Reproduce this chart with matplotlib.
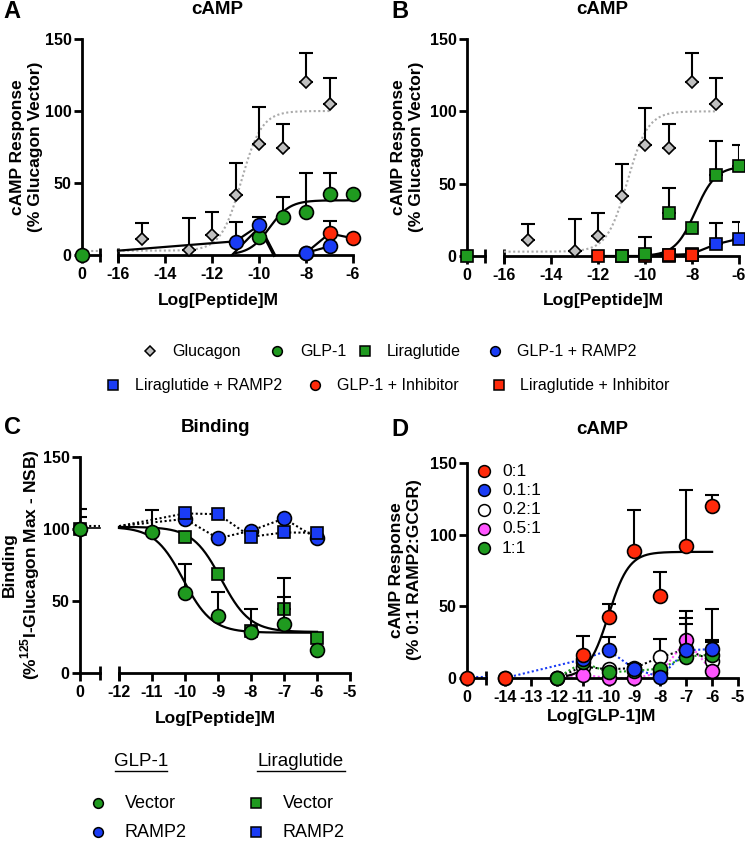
import numpy as np
import matplotlib
matplotlib.use('Agg')
import matplotlib.pyplot as plt
from matplotlib.lines import Line2D

plt.rcParams['font.family'] = 'Liberation Sans'
plt.rcParams['font.weight'] = 'bold'
plt.rcParams['mathtext.fontset'] = 'custom'
plt.rcParams['mathtext.bf'] = 'Liberation Sans:bold'
plt.rcParams['mathtext.rm'] = 'Liberation Sans:bold'

W, H = 745, 846

GREEN = '#1f9a1f'
BLUE = '#1a3cf5'
RED = '#ff2a0a'
GREY = '#c0c0c0'
MAGENTA = '#ff55ff'
WHITE = '#ffffff'

# ---- panels A/B: cAMP ----
glu_x = [-15, -13, -12, -11, -10, -9, -8, -7]
glu_y = [10.9, 3.5, 13.7, 41.7, 77, 74.4, 120, 105]
glu_err = [11.1, 22, 16.3, 22.1, 25.5, 16.6, 20, 18]
glu_fit = (3, 100, -10.75, 1.0)      # bottom, top, logEC50, hill

glp_x = [-10, -9, -8, -7, -6]
glp_y = [12.3, 26.7, 29.7, 42.2, 42.2]
glp_err = [0, 13.3, 27, 14.6, 0]
glp_fit = (0, 38, -9.55, 1.0)

glp_r2_x = [-11, -10, -8, -7]
glp_r2_y = [9, 20.5, 1.5, 6]
glp_r2_err = [14, 6, 0, 0]
glp_r2_line_x = [-16, -11, -10, -9.35]
glp_r2_line_y = [3, 9.5, 20.5, 0]
glp_r2_line2_x = [-11.15, -10]
glp_r2_line2_y = [0, 19]

glp_inh_x = [-8, -7, -6]
glp_inh_y = [1.5, 15, 11.6]
glp_inh_err = [0, 8.6, 0]

lira_x = [-11, -10, -9, -8, -7, -6]
lira_y = [0, 1.6, 30, 19.4, 56, 62]
lira_err = [0, 11.4, 16.7, 0, 23.5, 15]
lira_fit = (0, 62, -7.85, 1.0)

lira_r2_x = [-9, -8, -7, -6]
lira_r2_y = [0, 1.5, 8, 12]
lira_r2_err = [0, 0, 15, 11.5]

lira_inh_x = [-12, -11, -10, -9, -8]
lira_inh_y = [0, 0, 0, 1, 1]

# ---- panel C: binding ----
c_glp_x = [-11, -10, -9, -8, -7, -6]
c_glp_y = [98, 55.4, 39.7, 28.2, 34, 16.2]
c_glp_err = [15, 20.6, 16.8, 0, 18.6, 0]
c_glp_fit = (28, 101.5, -10.05, -1.0)

c_lira_x = [-10, -9, -8, -7, -6]
c_lira_y = [94.6, 68.5, 29, 44.5, 24]
c_lira_err = [0, 0, 15.5, 21.5, 0]
c_lira_fit = (28.5, 101.5, -8.9, -1.0)

c_glp_r2_x = [-12, -10, -9, -8, -7, -6]
c_glp_r2_y = [102, 107, 93.5, 98.8, 107.3, 93.5]
c_lira_r2_x = [-12, -10, -9, -8, -7, -6]
c_lira_r2_y = [102, 110.8, 110.3, 94.6, 97.6, 97.4]
c_ctrl_y = 100
c_ctrl_err = [14, 8]

# ---- panel D: cAMP, RAMP2:GCGR ratios ----
d_labels = ['0:1', '0.1:1', '0.2:1', '0.5:1', '1:1']
d_colors = [RED, BLUE, WHITE, MAGENTA, GREEN]
d_x = [
    [-14, -11, -10, -9, -8, -7, -6],
    [-14, -11, -10, -9, -8, -7, -6],
    [-12, -11, -10, -9, -8, -7, -6],
    [-12, -11, -10, -9, -8, -7, -6],
    [-12, -11, -10, -9, -8, -7, -6],
]
d_y = [
    [0, 16.3, 42.6, 88.4, 57, 92.3, 120],
    [0, 13, 19.3, 6.3, 0.7, 19.3, 20.2],
    [0, 8, 6, 7, 14.6, 20, 12],
    [0, 2.3, 0, 0, 3.5, 26.3, 4.7],
    [0, 10.9, 4, 5, 6.5, 15, 16.3],
]
d_err = [
    [0, 13.2, 9.3, 28.6, 17, 38.7, 8],
    [0, 0, 9.3, 3.7, 0, 27.7, 27.8],
    [0, 0, 0, 0, 12.8, 22, 14.7],
    [0, 0, 0, 0, 0, 11.7, 0],
    [0, 0, 0, 0, 0, 0, 8.7],
]
d_fit = (0, 88, -10.0, 1.1)


def logistic(x, bottom, top, logec, hill):
    return bottom + (top - bottom) / (1 + 10 ** ((logec - x) * hill))


def add_ax(l, r, t, b):
    return fig.add_axes([l / W, 1 - b / H, (r - l) / W, (b - t) / H])


def setup(ax_s, ax_m, xlim, xticks):
    for ax in (ax_s, ax_m):
        ax.set_ylim(0, 150)
        ax.patch.set_alpha(0)
        ax.spines['top'].set_visible(False)
        ax.spines['right'].set_visible(False)
        ax.spines['bottom'].set_linewidth(2)
        ax.tick_params(width=2, length=6, labelsize=11.5, direction='out')
        ax.tick_params(axis='x', pad=2.5)
        ax.tick_params(which='minor', direction='inout', length=10, width=2)
        ax.xaxis.remove_overlapping_locs = False
    ax_m.spines['left'].set_visible(False)
    ax_m.tick_params(axis='y', left=False, labelleft=False)
    ax_s.spines['left'].set_linewidth(2)
    ax_s.tick_params(axis='y', pad=1.5)
    ax_s.set_xlim(0, 1)
    ax_s.set_xticks([0])
    ax_s.set_xticks([1], minor=True)
    ax_s.set_yticks([0, 50, 100, 150])
    ax_m.set_xlim(*xlim)
    ax_m.set_xticks(xticks)
    ax_m.set_xticks([xlim[0]], minor=True)
    ax_m.set_xticklabels([str(v) for v in xticks])


def points(ax, x, y, err, marker, color, ms, z=5):
    x = np.asarray(x, float)
    y = np.asarray(y, float)
    err = np.asarray(err, float)
    m = err > 0
    if m.any():
        ax.errorbar(x[m], y[m], yerr=[np.zeros(m.sum()), err[m]], fmt='none',
                    ecolor='k', elinewidth=1.5, capsize=5, capthick=1.5, zorder=z - 1)
    ax.plot(x, y, ls='none', marker=marker, ms=ms, mfc=color, mec='k', mew=1.2,
            zorder=z, clip_on=False)


def fit_line(ax, params, x0, x1, **kw):
    xs = np.linspace(x0, x1, 200)
    ax.plot(xs, logistic(xs, *params), clip_on=False, **kw)


DOT = (0, (1, 1.2))
fig = plt.figure(figsize=(W / 100, H / 100), dpi=100)

# ---------------- A ----------------
aS = add_ax(82, 100, 39, 255)
aM = add_ax(118, 353, 39, 255)
setup(aS, aM, (-16, -6), [-16, -14, -12, -10, -8, -6])
aS.plot([0, 1], [3, 3], color='#aaaaaa', ls=DOT, lw=1.5, clip_on=False)
points(aS, [0], [0], [0], 'o', GREEN, 10)
fit_line(aM, glu_fit, -16, -7, color='#aaaaaa', ls=DOT, lw=1.5, zorder=2)
fit_line(aM, glp_fit, -11, -6, color='k', lw=1.6, zorder=2)
aM.plot(glp_r2_line_x, glp_r2_line_y, color='k', lw=1.6, zorder=2, clip_on=False)
aM.plot(glp_r2_line_x[2:], glp_r2_line_y[2:], color='k', lw=2.6, zorder=2, clip_on=False)
aM.plot(glp_r2_line2_x, glp_r2_line2_y, color='k', lw=1.6, zorder=2, clip_on=False)
aM.plot(glp_inh_x, glp_inh_y, color='k', lw=1.6, zorder=2)
aM.plot(glp_r2_x[2:], glp_r2_y[2:], color='k', lw=1.6, zorder=2)
points(aM, glu_x, glu_y, glu_err, 'D', GREY, 6.6)
points(aM, glp_x, glp_y, glp_err, 'o', GREEN, 10)
points(aM, glp_r2_x, glp_r2_y, glp_r2_err, 'o', BLUE, 10, z=6)
points(aM, glp_inh_x, glp_inh_y, glp_inh_err, 'o', RED, 10)

# ---------------- B ----------------
bS = add_ax(467, 485, 39, 256)
bM = add_ax(504, 739, 39, 256)
setup(bS, bM, (-16, -6), [-16, -14, -12, -10, -8, -6])
points(bS, [0], [0], [0], 's', GREEN, 9)
fit_line(bM, glu_fit, -16, -7, color='#aaaaaa', ls=DOT, lw=1.5, zorder=2)
fit_line(bM, lira_fit, -10, -6, color='k', lw=1.6, zorder=2)
bM.plot(lira_inh_x, lira_inh_y, color='k', lw=1.6, zorder=2)
bM.plot(lira_r2_x, lira_r2_y, color='k', lw=1.6, zorder=2)
points(bM, glu_x, glu_y, glu_err, 'D', GREY, 6.6)
points(bM, lira_r2_x, lira_r2_y, lira_r2_err, 's', BLUE, 9)
points(bM, lira_inh_x, lira_inh_y, [0] * 5, 's', RED, 9)
points(bM, lira_x, lira_y, lira_err, 's', GREEN, 9, z=6)
bM.plot(lira_inh_x[3:], lira_inh_y[3:], ls='none', marker='s', ms=9, mfc=RED,
        mec='k', mew=1.2, zorder=7, clip_on=False)

# ---------------- C ----------------
cS = add_ax(80, 100, 457, 673)
cM = add_ax(119, 350, 457, 673)
setup(cS, cM, (-12, -5), [-12, -11, -10, -9, -8, -7, -6, -5])
cS.plot([0, 1], [102, 102], color='k', ls=DOT, lw=1.5, clip_on=False)
cS.plot([0, 1], [101, 101], color='k', lw=1.2, clip_on=False)
cS.errorbar([0, 0], [c_ctrl_y, c_ctrl_y], yerr=[[0, 0], c_ctrl_err], fmt='none',
            ecolor='k', elinewidth=1.5, capsize=5, capthick=1.5, zorder=4)
points(cS, [0], [c_ctrl_y], [0], 's', GREEN, 9)
points(cS, [0], [c_ctrl_y], [0], 'o', GREEN, 10, z=6)
cM.plot(c_glp_r2_x, c_glp_r2_y, color='k', ls=DOT, lw=1.5, zorder=2)
cM.plot(c_lira_r2_x, c_lira_r2_y, color='k', ls=DOT, lw=1.5, zorder=2)
fit_line(cM, c_glp_fit, -12, -6, color='k', lw=1.6, zorder=2)
fit_line(cM, c_lira_fit, -12, -6, color='k', lw=1.6, zorder=2)
points(cM, c_glp_r2_x[1:], c_glp_r2_y[1:], [0] * 5, 'o', BLUE, 10)
points(cM, c_lira_r2_x[1:], c_lira_r2_y[1:], [0] * 5, 's', BLUE, 9, z=6)
points(cM, c_lira_x, c_lira_y, c_lira_err, 's', GREEN, 9, z=7)
points(cM, c_glp_x, c_glp_y, c_glp_err, 'o', GREEN, 10, z=8)

# ---------------- D ----------------
dS = add_ax(467, 486, 463, 678)
dM = add_ax(505, 738, 463, 678)
setup(dS, dM, (-14, -5), list(range(-14, -4)))
dS.plot([0, 1], [0.5, 0.5], color=BLUE, ls=DOT, lw=1.5, clip_on=False)
points(dS, [0], [0], [0], 'o', RED, 10, z=6)
line_cols = [None, BLUE, 'k', MAGENTA, GREEN]
for i in range(1, 5):
    dM.plot(d_x[i], d_y[i], color=line_cols[i], ls=DOT, lw=1.5, zorder=2, clip_on=False)
fit_line(dM, d_fit, -11.6, -6, color='k', lw=1.6, zorder=3)
for z, i in zip([5, 6, 7, 8, 9], [2, 3, 4, 1, 0]):
    points(dM, d_x[i], d_y[i], d_err[i], 'o', d_colors[i], 10, z=z)

# ---------------- texts ----------------
def ftext(x, y, s, **kw):
    fig.text(x / W, 1 - y / H, s, **kw)


for lx, ly, letter in [(12, 11, 'A'), (400, 11, 'B'), (12, 428, 'C'), (400, 430, 'D')]:
    ftext(lx, ly, letter, fontsize=17, ha='center', va='center')
for tx, ty, title in [(217, 10, 'cAMP'), (602, 10, 'cAMP'), (215, 428, 'Binding'), (602, 430, 'cAMP')]:
    ftext(tx, ty, title, fontsize=13.5, ha='center', va='center')
for tx, ty, lab in [(218, 300, 'Log[Peptide]M'), (603, 300, 'Log[Peptide]M'),
                    (215, 718, 'Log[Peptide]M'), (602, 717, 'Log[GLP-1]M')]:
    ftext(tx, ty, lab, fontsize=12.5, ha='center', va='center')

ylabs = [
    (18, 36, 147, 'cAMP Response', '(% Glucagon Vector)'),
    (399, 417, 147, 'cAMP Response', '(% Glucagon Vector)'),
    (9, 30, 565, 'Binding', r'(%$^{\mathbf{125}}$I-Glucagon Max - NSB)'),
    (396, 415, 570, 'cAMP Response', '(% 0:1 RAMP2:GCGR)'),
]
for x1, x2, yc, l1, l2 in ylabs:
    ftext(x1, yc, l1, fontsize=12.5, rotation=90, ha='center', va='center')
    ftext(x2, yc, l2, fontsize=12.5, rotation=90, ha='center', va='center')


def fmarker(x, y, marker, color, ms):
    fig.add_artist(Line2D([x / W], [1 - y / H], ls='none', marker=marker, ms=ms,
                          mfc=color, mec='k', mew=1.1))


# legend for A and B
ab_legend = [
    (150, 172, 351, 'Glucagon', 'D', GREY, 4.8),
    (277, 300, 351, 'GLP-1', 'o', GREEN, 7),
    (365, 387, 351, 'Liraglutide', 's', GREEN, 6.5),
    (495, 517, 351, 'GLP-1 + RAMP2', 'o', BLUE, 7),
    (113, 135, 385, 'Liraglutide + RAMP2', 's', BLUE, 6.5),
    (315, 337, 385, 'GLP-1 + Inhibitor', 'o', RED, 7),
    (499, 520, 385, 'Liraglutide + Inhibitor', 's', RED, 6.5),
]
for mx, tx, y, lab, mk, col, ms in ab_legend:
    fmarker(mx, y, mk, col, ms)
    ftext(tx, y, lab, fontsize=11.5, fontweight='normal', ha='left', va='center')

# legend for C
ftext(141, 761, 'GLP-1', fontsize=13.5, fontweight='normal', ha='center', va='center')
ftext(301, 761, 'Liraglutide', fontsize=13.5, fontweight='normal', ha='center', va='center')
fig.add_artist(Line2D([115 / W, 167 / W], [1 - 771 / H] * 2, color='k', lw=1))
fig.add_artist(Line2D([257 / W, 345 / W], [1 - 771 / H] * 2, color='k', lw=1))
for y, lab, col in [(803, 'Vector', GREEN), (832, 'RAMP2', BLUE)]:
    fmarker(98, y, 'o', col, 7)
    ftext(125, y, lab, fontsize=13, fontweight='normal', ha='left', va='center')
    fmarker(256, y, 's', col, 6.5)
    ftext(283, y, lab, fontsize=13, fontweight='normal', ha='left', va='center')

# legend for D
for i, lab in enumerate(d_labels):
    y = 471 + 19.3 * i
    fmarker(484, y, 'o', d_colors[i], 8.5)
    ftext(502, y, lab, fontsize=12.5, fontweight='normal', ha='left', va='center')

fig.savefig('out.png', dpi=100)
